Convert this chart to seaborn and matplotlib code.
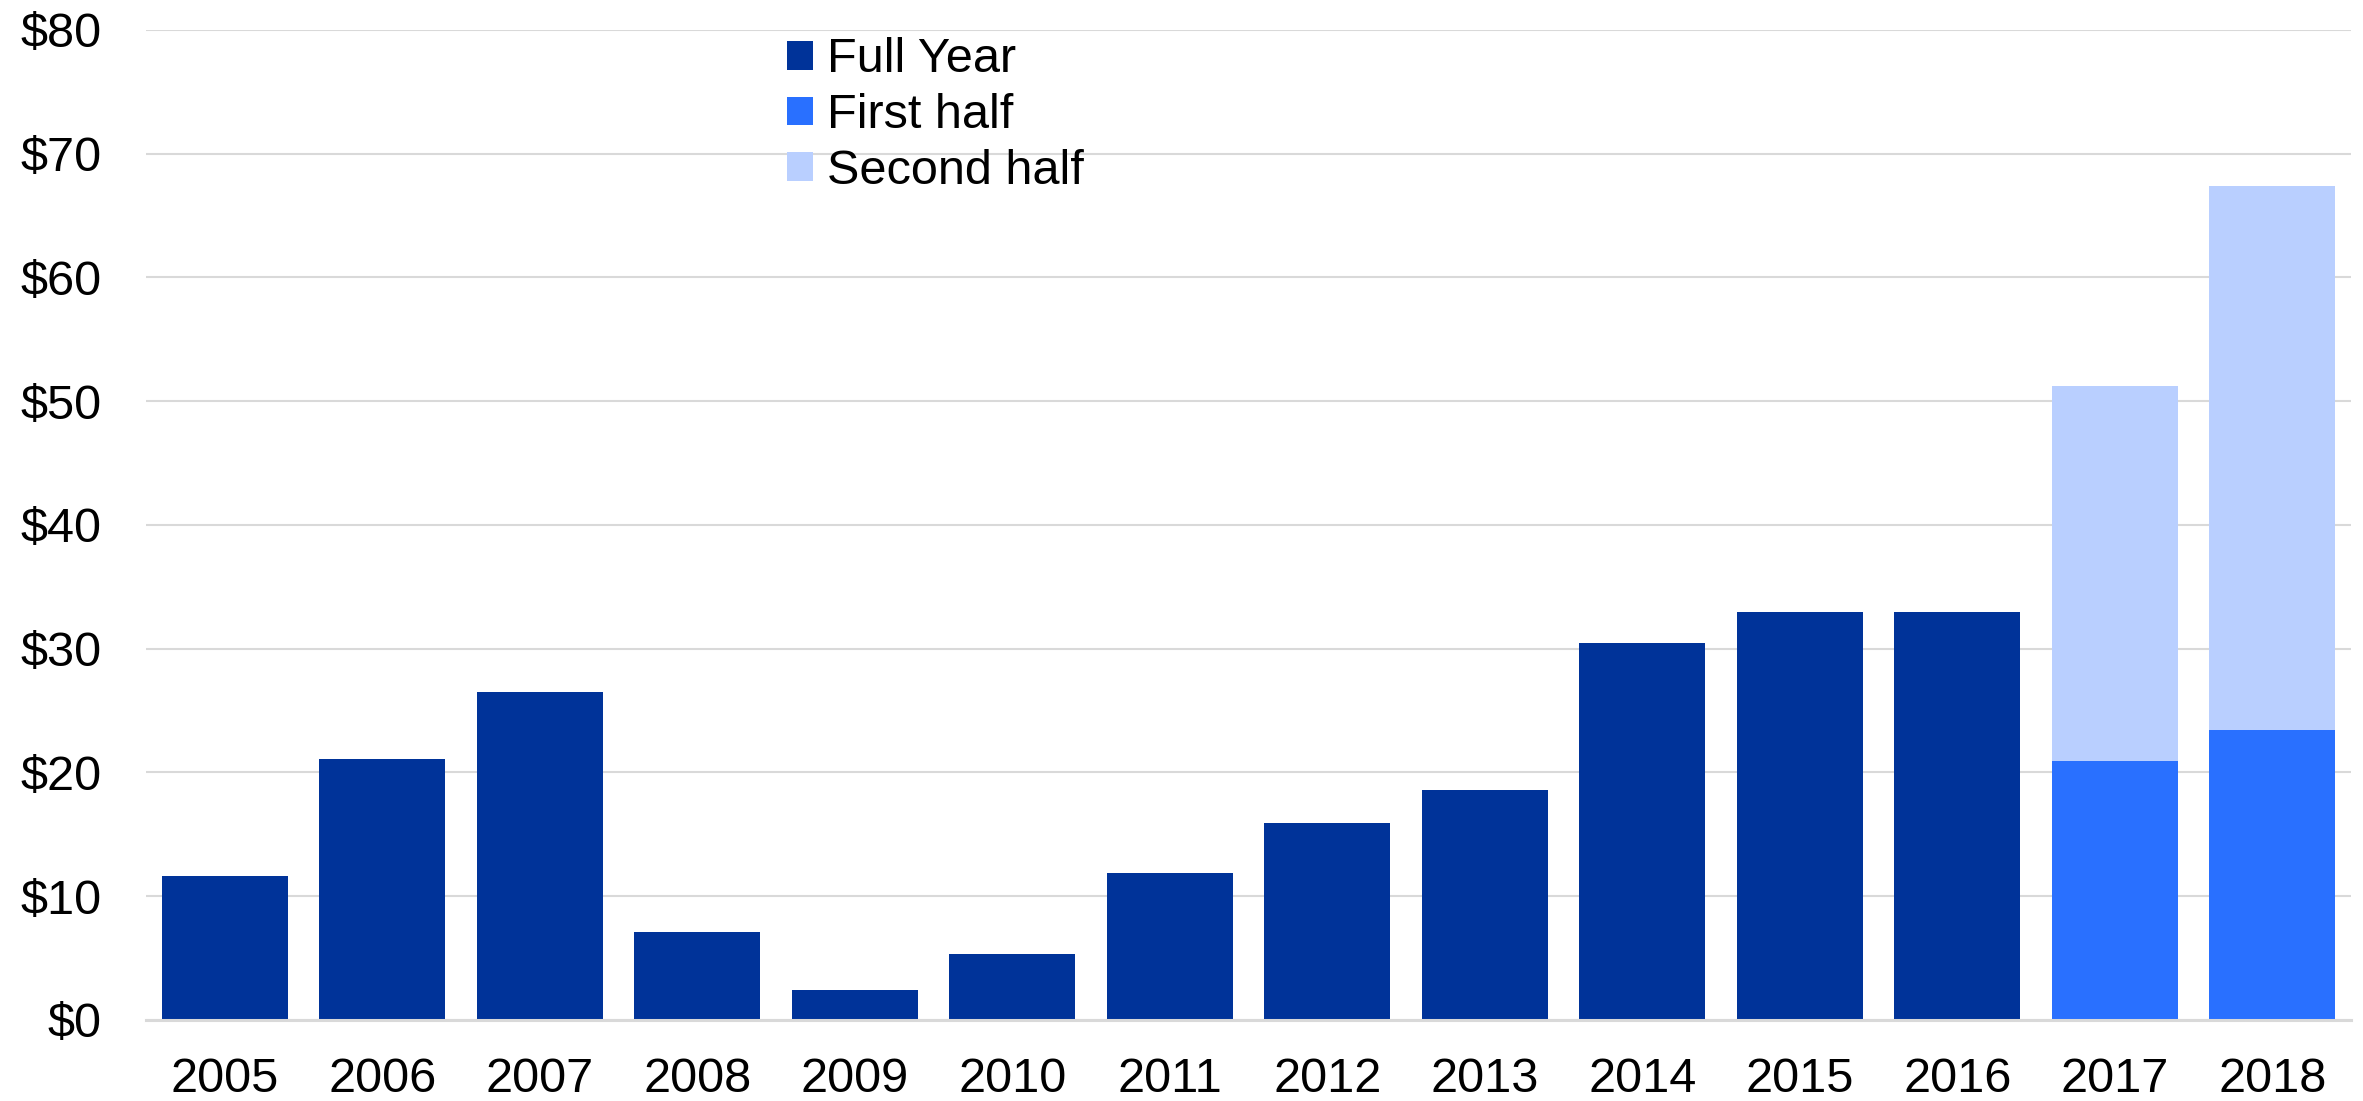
import matplotlib
matplotlib.use("Agg")
import matplotlib.pyplot as plt
from matplotlib.patches import Patch
import seaborn as sns
import pandas as pd

# Annual totals ($), with the last two years split into halves
years = [str(y) for y in range(2005, 2019)]
full_year_years = years[:12]
full_year = [11.6, 21.1, 26.5, 7.1, 2.4, 5.3, 11.9, 15.9, 18.6, 30.5, 32.95, 32.95]
split_years = ["2017", "2018"]
first_half = [20.9, 23.4]
second_half = [30.3, 44.0]
y_ticks = [0, 10, 20, 30, 40, 50, 60, 70, 80]

series_names = ["Full Year", "First half", "Second half"]
colors = {"Full Year": "#003399", "First half": "#2970FF", "Second half": "#B9CFFF"}

bottom = pd.DataFrame({
    "year": full_year_years + split_years,
    "value": full_year + first_half,
    "series": ["Full Year"] * len(full_year_years) + ["First half"] * len(split_years),
})
totals = pd.DataFrame({
    "year": split_years,
    "value": [a + b for a, b in zip(first_half, second_half)],
    "series": ["Second half"] * len(split_years),
})

sns.set_theme(style="white")
plt.rcParams["font.family"] = ["Liberation Sans", "DejaVu Sans"]
plt.rcParams["text.color"] = "black"

fig = plt.figure(figsize=(23.63, 11.01), dpi=100)
ax = fig.add_axes([0.0618, 0.0736, 0.9332, 0.8992])
ax.set_axisbelow(True)

# Stacked halves: full height in the light colour, lower part over it
sns.barplot(data=totals, x="year", y="value", order=years, color=colors["Second half"],
            width=0.8, linewidth=0, saturation=1, ax=ax, errorbar=None)
sns.barplot(data=bottom, x="year", y="value", order=years, hue="series",
            hue_order=["Full Year", "First half"], palette=colors, dodge=False,
            width=0.8, linewidth=0, saturation=1, ax=ax, errorbar=None, legend=False)

ax.set_ylim(0, 80)
ax.set_xlim(-0.5, len(years) - 0.5)
ax.set_yticks(y_ticks)
ax.set_yticklabels([f"${v}" for v in y_ticks])
ax.set_xlabel("")
ax.set_ylabel("")
ax.yaxis.grid(True, color="#d9d9d9", linewidth=1.5)
ax.xaxis.grid(False)
for side in ["left", "right", "top"]:
    ax.spines[side].set_visible(False)
ax.spines["bottom"].set_color("#d9d9d9")
ax.spines["bottom"].set_linewidth(2.2)
ax.tick_params(axis="y", length=0, pad=32, labelsize=35, labelcolor="black")
ax.tick_params(axis="x", length=0, pad=27, labelsize=35, labelcolor="black")

handles = [Patch(facecolor=colors[n], edgecolor="none") for n in series_names]
fig.legend(handles, series_names, loc="upper left", bbox_to_anchor=(0.333, 0.966),
           frameon=False, fontsize=35, handlelength=0.53, handleheight=0.53,
           handletextpad=0.3, labelspacing=0.22, borderpad=0, borderaxespad=0,
           labelcolor="black")

fig.savefig("out.png", dpi=100, facecolor="white")
